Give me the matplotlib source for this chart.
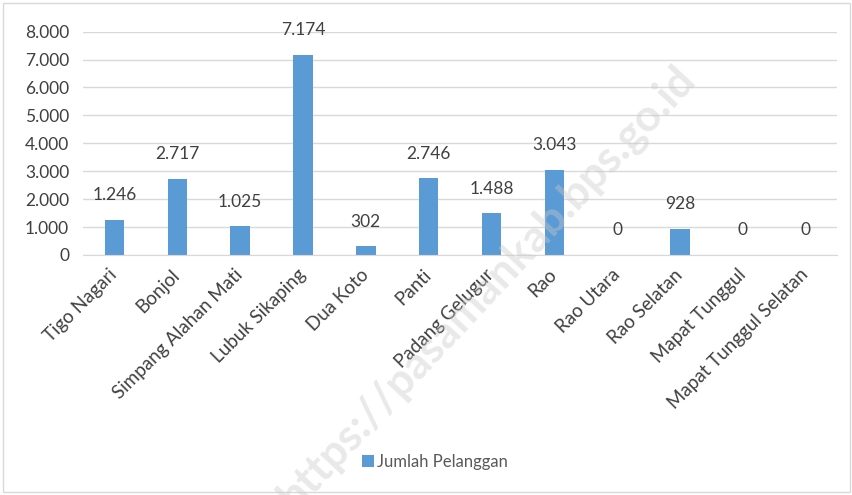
import matplotlib
matplotlib.use("Agg")
import matplotlib.pyplot as plt
import matplotlib.transforms as mtransforms
from matplotlib.patches import Rectangle
from matplotlib.ticker import FuncFormatter

categories = ["Tigo Nagari", "Bonjol", "Simpang Alahan Mati", "Lubuk Sikaping",
              "Dua Koto", "Panti", "Padang Gelugur", "Rao", "Rao Utara",
              "Rao Selatan", "Mapat Tunggul", "Mapat Tunggul Selatan"]
values = [1246, 2717, 1025, 7174, 302, 2746, 1488, 3043, 0, 928, 0, 0]
series_name = "Jumlah Pelanggan"

plt.rcParams['font.family'] = ['Lato', 'DejaVu Sans']
TXT = '#404040'
BAR = '#5B9BD5'

def fmt(v, pos=None):
    return f"{int(v):,}".replace(",", ".")

fig = plt.figure(figsize=(8.53, 4.95), dpi=100)
ax = fig.add_axes([0.0973, 0.485, 0.884, 0.451])

x = list(range(len(categories)))
bars = ax.bar(x, values, width=0.31, color=BAR, label=series_name, zorder=2)
ax.set_xlim(-0.5, len(categories) - 0.5)
ax.set_ylim(0, 8000)
ax.set_yticks(range(0, 8001, 1000))
ax.yaxis.set_major_formatter(FuncFormatter(fmt))
ax.grid(axis='y', color='#d9d9d9', linewidth=1, zorder=0)
for s in ['top', 'right', 'left']:
    ax.spines[s].set_visible(False)
ax.spines['bottom'].set_color('#d9d9d9')
ax.tick_params(axis='both', length=0, colors=TXT, labelsize=12.5)
ax.tick_params(axis='y', pad=10)
ax.set_xticks(x)
ax.set_xticklabels(categories, rotation=45, ha='right', rotation_mode='anchor',
                   fontsize=13.5, color=TXT)
ax.tick_params(axis='x', pad=8)
shift = mtransforms.ScaledTranslation(-0.06, 0, fig.dpi_scale_trans)
for lbl in ax.get_xticklabels():
    lbl.set_transform(lbl.get_transform() + shift)

for xi, v in zip(x, values):
    ax.annotate(fmt(v), (xi, v), xytext=(0, 12), textcoords='offset points',
                ha='center', va='bottom', fontsize=12.5, color=TXT)

leg = fig.legend(handles=[bars], labels=[series_name], loc='center',
                 bbox_to_anchor=(0.51, 0.067), frameon=False, fontsize=12,
                 handlelength=0.7, handleheight=0.7, handletextpad=0.2)
for t in leg.get_texts():
    t.set_color('#595959')

fig.text(0.57, 0.42, "https://pasamankab.bps.go.id", rotation=47,
         ha='center', va='center', fontsize=32, fontweight='bold',
         color='#c8c8c8', alpha=0.4, zorder=10)

fig.patches.append(Rectangle((0.004, 0.006), 0.992, 0.988, transform=fig.transFigure,
                             fill=False, edgecolor='#d9d9d9', linewidth=1))

fig.savefig("out.png", dpi=100)
